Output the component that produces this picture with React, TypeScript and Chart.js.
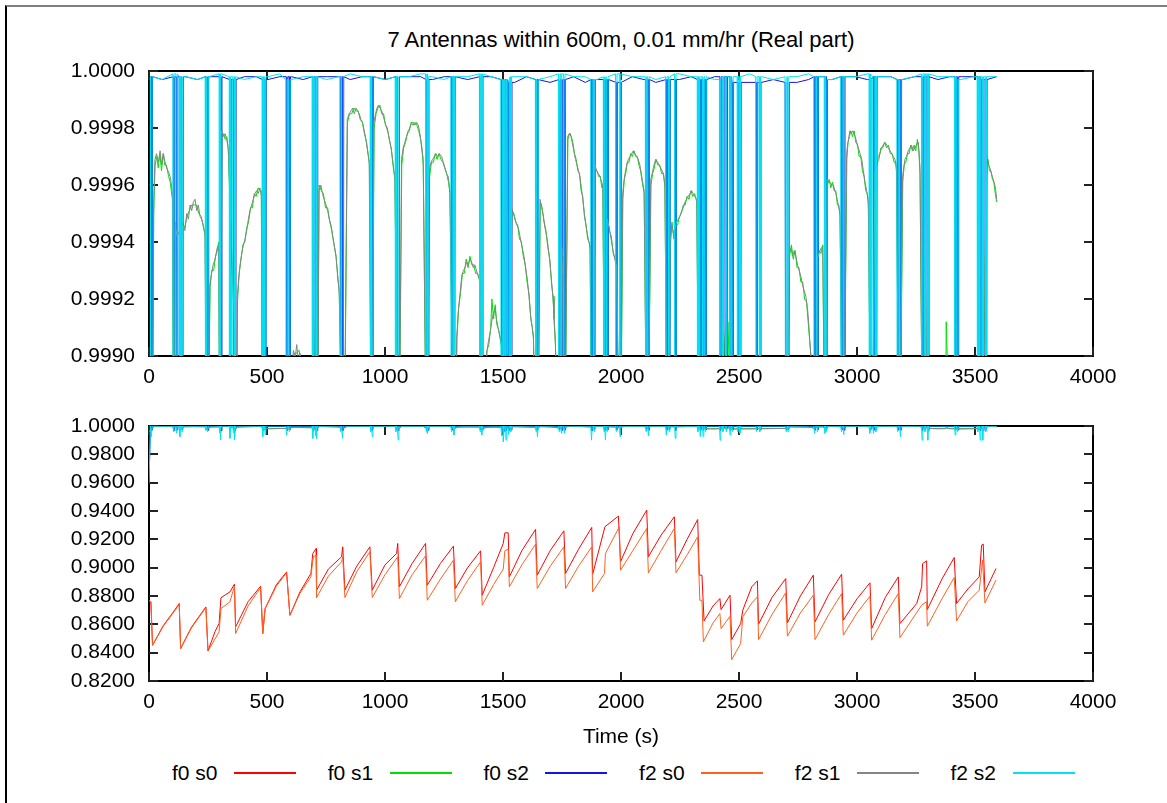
import React, { useEffect, useRef } from 'react';
import { Chart, registerables } from 'chart.js';

Chart.register(...registerables);

type Pt = [number, number];

const FONT = '"Liberation Sans", Arial, Helvetica, sans-serif';
const FONT_SIZE = 21;
const TITLE_SIZE = 22;

const chartTitle = '7 Antennas within 600m, 0.01 mm/hr (Real part)';
const xAxisTitle = 'Time (s)';

const xTicks = [0, 500, 1000, 1500, 2000, 2500, 3000, 3500, 4000];
const yTicksTop = [0.999, 0.9992, 0.9994, 0.9996, 0.9998, 1.0];
const yTicksBottom = [0.82, 0.84, 0.86, 0.88, 0.9, 0.92, 0.94, 0.96, 0.98, 1.0];

const seriesNames = ['f0 s0', 'f0 s1', 'f0 s2', 'f2 s0', 'f2 s1', 'f2 s2'];
const seriesColors = ['#ff0000', '#00e000', '#1414e6', '#ff6020', '#848484', '#00e4f0'];

// s0: sawtooth phase drift, reset at every calibration
const f0s0: Pt[] = [
  [0, 0.8766], [8, 0.876], [15, 0.8452],
  [60, 0.859], [100, 0.868], [128, 0.8747],
  [134, 0.8429],
  [180, 0.858], [241, 0.8723],
  [250, 0.8412],
  [280, 0.855], [297, 0.8605], [305, 0.8788], [343, 0.8829], [362, 0.8883],
  [367, 0.8582],
  [420, 0.876], [473, 0.8869],
  [482, 0.8535], [492, 0.8711],
  [540, 0.888], [583, 0.897],
  [597, 0.8664],
  [640, 0.883], [686, 0.8959], [694, 0.91], [708, 0.9135],
  [710, 0.8841],
  [760, 0.899], [816, 0.9077], [821, 0.9147],
  [830, 0.8841],
  [880, 0.901], [936, 0.9147],
  [946, 0.8841],
  [1000, 0.902], [1049, 0.91], [1054, 0.9171],
  [1061, 0.8865],
  [1115, 0.903], [1172, 0.9171],
  [1179, 0.8876],
  [1235, 0.903], [1290, 0.9152],
  [1298, 0.8853],
  [1350, 0.9], [1405, 0.9119],
  [1412, 0.8806],
  [1460, 0.9], [1501, 0.9171], [1508, 0.9246], [1522, 0.9246],
  [1527, 0.8935],
  [1580, 0.912], [1638, 0.927],
  [1645, 0.8947],
  [1700, 0.912], [1758, 0.926],
  [1765, 0.8959],
  [1820, 0.913], [1876, 0.9284],
  [1880, 0.8954],
  [1932, 0.9289], [1989, 0.9364],
  [1998, 0.9041],
  [2050, 0.924], [2109, 0.9406],
  [2116, 0.9077],
  [2170, 0.923], [2226, 0.9359],
  [2233, 0.9041],
  [2280, 0.92], [2325, 0.934],
  [2332, 0.8947], [2343, 0.8947], [2352, 0.8624],
  [2390, 0.873], [2419, 0.8782], [2424, 0.8704], [2462, 0.8806],
  [2469, 0.8492],
  [2507, 0.8605], [2516, 0.87], [2554, 0.8865], [2578, 0.8907],
  [2583, 0.8601],
  [2640, 0.879], [2698, 0.8923],
  [2705, 0.861],
  [2760, 0.88], [2815, 0.8947],
  [2822, 0.8617],
  [2880, 0.881], [2935, 0.8954],
  [2942, 0.8629],
  [3000, 0.878], [3055, 0.8893],
  [3062, 0.857],
  [3120, 0.879], [3175, 0.8935],
  [3182, 0.8605],
  [3253, 0.8747], [3274, 0.8865], [3278, 0.9029], [3295, 0.9048],
  [3298, 0.8704],
  [3360, 0.892], [3412, 0.9072],
  [3422, 0.8747],
  [3470, 0.885], [3518, 0.8935], [3528, 0.9159], [3535, 0.9166],
  [3542, 0.8829],
  [3589, 0.8994],
];

const f2s0: Pt[] = [
  [0, 0.8766], [8, 0.876], [15, 0.8452],
  [60, 0.8585], [100, 0.8675], [128, 0.874],
  [134, 0.8429],
  [180, 0.8575], [241, 0.8718],
  [250, 0.8412],
  [297, 0.8546], [305, 0.8711], [343, 0.8759], [362, 0.8869],
  [367, 0.8535],
  [420, 0.873], [473, 0.886],
  [482, 0.8535], [492, 0.8711],
  [540, 0.887], [583, 0.8964],
  [597, 0.8664],
  [640, 0.882], [686, 0.8935], [696, 0.9077], [708, 0.9088],
  [710, 0.8789],
  [760, 0.894], [816, 0.9041], [821, 0.9077],
  [830, 0.8789],
  [880, 0.897], [936, 0.9112],
  [946, 0.8789],
  [1000, 0.895], [1054, 0.9077],
  [1061, 0.8782],
  [1115, 0.895], [1172, 0.9084],
  [1179, 0.877],
  [1235, 0.892], [1290, 0.9053],
  [1298, 0.8759],
  [1350, 0.891], [1405, 0.9041],
  [1412, 0.8735],
  [1460, 0.888], [1501, 0.899], [1508, 0.912], [1522, 0.913],
  [1527, 0.8865],
  [1580, 0.902], [1638, 0.9166],
  [1645, 0.8853],
  [1700, 0.901], [1758, 0.9147],
  [1765, 0.8853],
  [1820, 0.901], [1876, 0.9147],
  [1880, 0.8829],
  [1930, 0.8959], [1934, 0.91], [1993, 0.9289],
  [1998, 0.8982],
  [2050, 0.912], [2109, 0.9277],
  [2116, 0.8964],
  [2170, 0.912], [2226, 0.9277],
  [2233, 0.8964],
  [2280, 0.909], [2325, 0.9218],
  [2334, 0.877], [2343, 0.877], [2349, 0.8476],
  [2390, 0.861], [2419, 0.8676], [2424, 0.857], [2462, 0.8657],
  [2469, 0.8351],
  [2507, 0.8464], [2516, 0.8652], [2554, 0.875], [2578, 0.8794],
  [2583, 0.8492],
  [2640, 0.867], [2698, 0.8822],
  [2705, 0.8516],
  [2760, 0.868], [2815, 0.8806],
  [2822, 0.8492],
  [2880, 0.867], [2935, 0.8817],
  [2942, 0.8523],
  [3000, 0.868], [3055, 0.8799],
  [3062, 0.8488],
  [3120, 0.867], [3175, 0.8817],
  [3182, 0.8506],
  [3274, 0.8735], [3295, 0.876],
  [3298, 0.8587],
  [3360, 0.878], [3412, 0.8931],
  [3422, 0.8624],
  [3470, 0.876], [3518, 0.8841], [3532, 0.9053],
  [3542, 0.8751],
  [3589, 0.8912],
];

// s1: close to unity, falls away at each calibration
const f0s1: Pt[] = [
  [0, 0.996], [20, 0.9995],
  [26, 0.99967], [33, 0.9997], [39, 0.99966], [46, 0.99971], [53, 0.99965], [60, 0.99971], [67, 0.99967], [74, 0.99967], [83, 0.99963], [90, 0.99961], [99, 0.99955],
  [105, 0.9984], [111, 0.9994], [114, 0.99947],
  [121, 0.99943], [131, 0.99943], [141, 0.99947], [151, 0.99945], [161, 0.99949], [171, 0.99951], [181, 0.99953], [191, 0.99953], [201, 0.99953], [211, 0.9995], [221, 0.99949], [231, 0.99945], [238, 0.99942],
  [246, 0.9984],
  [259, 0.99924], [266, 0.9993], [274, 0.9993], [282, 0.99935], [290, 0.99937], [295, 0.9994],
  [302, 0.9984],
  [309, 0.99977], [316, 0.99978], [323, 0.99976], [330, 0.99977], [336, 0.99972],
  [350, 0.99936], [366, 0.999], [370, 0.9984],
  [375, 0.99919], [382, 0.99929], [390, 0.99934], [398, 0.99939], [406, 0.9994], [414, 0.99945], [422, 0.99947], [430, 0.99952], [438, 0.99952], [446, 0.99957], [454, 0.99956], [462, 0.99959], [470, 0.99958], [476, 0.99958],
  [482, 0.9983],
  [510, 0.9981], [550, 0.9982], [585, 0.99825],
  [597, 0.9981],
  [606, 0.99898], [616, 0.99901], [626, 0.99901], [636, 0.99902], [650, 0.99891], [675, 0.99883], [690, 0.99876],
  [697, 0.99915], [701, 0.99895],
  [712, 0.9983],
  [721, 0.9996], [730, 0.99958], [739, 0.99957], [748, 0.99952], [757, 0.99952], [766, 0.99947], [775, 0.99944], [784, 0.99939], [793, 0.99935], [800, 0.99927], [806, 0.99923],
  [825, 0.9984],
  [841, 0.99982], [850, 0.99985], [859, 0.99985], [868, 0.99987], [877, 0.99986], [886, 0.99986], [895, 0.99983], [904, 0.99982], [913, 0.99978], [922, 0.99975], [930, 0.9997], [934, 0.99967],
  [944, 0.9984],
  [954, 0.9998], [962, 0.99985], [970, 0.99987], [978, 0.99988], [986, 0.99985], [994, 0.99985], [1002, 0.99981], [1010, 0.9998], [1018, 0.99976], [1026, 0.99973], [1034, 0.99967], [1042, 0.99962],
  [1058, 0.9984],
  [1071, 0.99967], [1079, 0.99973], [1087, 0.99975], [1095, 0.99978], [1103, 0.99979], [1111, 0.99982], [1119, 0.99981], [1127, 0.99982], [1135, 0.99981], [1143, 0.99979], [1151, 0.99976], [1158, 0.99971], [1162, 0.99967],
  [1178, 0.9984],
  [1189, 0.99963], [1197, 0.99968], [1205, 0.99968], [1213, 0.99971], [1221, 0.99969], [1229, 0.99971], [1237, 0.99969], [1245, 0.99968], [1253, 0.99966], [1261, 0.99964], [1269, 0.99961], [1275, 0.99957],
  [1294, 0.9984],
  [1305, 0.99906], [1312, 0.99917], [1320, 0.99922], [1328, 0.99929], [1336, 0.99929], [1344, 0.99934], [1352, 0.99931], [1360, 0.99935], [1368, 0.99932], [1376, 0.99932], [1384, 0.99929], [1392, 0.99929], [1402, 0.99926],
  [1410, 0.9983],
  [1432, 0.99902], [1440, 0.99904], [1448, 0.9991], [1453, 0.9992], [1460, 0.99913], [1467, 0.99918], [1474, 0.99911], [1482, 0.99909], [1490, 0.99905], [1494, 0.99903],
  [1515, 0.9983],
  [1538, 0.99951], [1546, 0.9995], [1554, 0.99947], [1562, 0.99946], [1570, 0.99941], [1578, 0.9994], [1586, 0.99935], [1594, 0.99932], [1602, 0.99926], [1610, 0.99922], [1618, 0.99913], [1624, 0.9991], [1629, 0.99906],
  [1645, 0.9983],
  [1658, 0.99954], [1666, 0.99952], [1674, 0.99947], [1682, 0.99944], [1690, 0.99938], [1698, 0.99934], [1706, 0.99925], [1712, 0.99921], [1716, 0.99913], [1722, 0.99904],
  [1740, 0.9984], [1750, 0.99935], [1754, 0.99925], [1760, 0.9984],
  [1775, 0.99976], [1782, 0.99978], [1789, 0.99977], [1796, 0.99975], [1803, 0.99971], [1810, 0.99969], [1817, 0.99965], [1824, 0.99964], [1831, 0.99958], [1838, 0.99956], [1845, 0.99949], [1852, 0.99946], [1859, 0.99941], [1865, 0.9994], [1869, 0.99937],
  [1878, 0.9984],
  [1891, 0.99965], [1898, 0.99965], [1905, 0.99963], [1912, 0.99963], [1919, 0.99959], [1923, 0.9996],
  [1934, 0.9984],
  [1943, 0.99949], [1951, 0.99944], [1959, 0.99942], [1967, 0.99936], [1975, 0.99934], [1982, 0.9993],
  [1996, 0.9984],
  [2008, 0.99955], [2014, 0.99962], [2020, 0.99964], [2027, 0.99968], [2034, 0.99968], [2041, 0.99971], [2048, 0.9997], [2055, 0.99972], [2062, 0.9997], [2069, 0.9997], [2076, 0.99967], [2083, 0.99965], [2090, 0.99961], [2098, 0.99957],
  [2112, 0.9984],
  [2127, 0.9996], [2134, 0.99964], [2141, 0.99966], [2148, 0.99969], [2156, 0.99967], [2164, 0.99967], [2172, 0.99964], [2180, 0.99964], [2186, 0.99959],
  [2198, 0.9984],
  [2209, 0.99938], [2216, 0.99947], [2224, 0.99941], [2232, 0.99946], [2240, 0.99946], [2248, 0.99949], [2256, 0.9995], [2264, 0.99953], [2272, 0.99953], [2280, 0.99956], [2288, 0.99955], [2296, 0.99958], [2304, 0.99956], [2312, 0.99957], [2321, 0.99954],
  [2335, 0.9982],
  [2380, 0.998], [2430, 0.9981], [2440, 0.99905], [2446, 0.99915], [2452, 0.99895], [2458, 0.99912], [2464, 0.9983], [2470, 0.9979], [2530, 0.998], [2600, 0.9981], [2690, 0.99825],
  [2700, 0.9983],
  [2714, 0.99935], [2722, 0.99939], [2730, 0.99934], [2738, 0.99937], [2746, 0.99931], [2754, 0.99931], [2762, 0.99926], [2770, 0.99926], [2778, 0.9992], [2786, 0.99919], [2793, 0.99912], [2800, 0.99905], [2806, 0.99899],
  [2822, 0.9983],
  [2833, 0.99932], [2840, 0.99937], [2847, 0.99936], [2855, 0.99939],
  [2866, 0.9984],
  [2875, 0.9996], [2882, 0.99962], [2889, 0.99959], [2896, 0.99961], [2903, 0.99958], [2910, 0.99958], [2917, 0.99953], [2923, 0.99953], [2928, 0.99949],
  [2942, 0.9984],
  [2957, 0.99969], [2962, 0.99975], [2968, 0.99977], [2974, 0.99979], [2981, 0.99977], [2988, 0.99979], [2995, 0.99975], [3002, 0.99974], [3009, 0.9997], [3016, 0.9997], [3023, 0.99965], [3030, 0.99963], [3037, 0.99958], [3043, 0.99957], [3048, 0.99953],
  [3062, 0.9984],
  [3077, 0.99962], [3085, 0.99968], [3093, 0.99969], [3101, 0.99973], [3109, 0.99973], [3117, 0.99975], [3125, 0.99973], [3133, 0.99974], [3141, 0.99971], [3149, 0.99971], [3157, 0.99968], [3163, 0.99968], [3167, 0.99965],
  [3180, 0.9984],
  [3194, 0.99961], [3200, 0.99967], [3207, 0.99968], [3214, 0.99971], [3221, 0.99971], [3228, 0.99974], [3235, 0.99972], [3242, 0.99974], [3249, 0.99972], [3256, 0.99976], [3262, 0.99972], [3267, 0.99964],
  [3280, 0.9984], [3286, 0.99932], [3290, 0.99918], [3300, 0.9983],
  [3340, 0.9981], [3372, 0.99815], [3378, 0.99912], [3383, 0.99898], [3390, 0.9982], [3440, 0.998], [3480, 0.9981], [3520, 0.99805],
  [3550, 0.99967], [3555, 0.99969], [3561, 0.99965], [3567, 0.99965], [3574, 0.99962], [3580, 0.99961], [3586, 0.99957], [3592, 0.99954],
];

const f2s1: Pt[] = [
  [0, 0.996], [20, 0.99955],
  [25, 0.99969], [32, 0.99971], [40, 0.99968], [47, 0.99972], [54, 0.99967], [61, 0.99971], [68, 0.99968], [75, 0.99966], [86, 0.99964], [92, 0.99962], [100, 0.99956],
  [106, 0.9984], [112, 0.99945],
  [120, 0.99942], [130, 0.99944], [145, 0.99946], [152, 0.99944], [160, 0.9995], [167, 0.99948], [174, 0.99953], [181, 0.99951], [188, 0.99954], [195, 0.99955], [202, 0.99951], [209, 0.99953], [216, 0.99949], [223, 0.99948], [230, 0.99946], [237, 0.99943],
  [246, 0.9984],
  [258, 0.99925], [265, 0.99929], [272, 0.99932], [280, 0.99934], [289, 0.99938], [295, 0.99939],
  [302, 0.9984],
  [308, 0.99979], [315, 0.99977], [322, 0.99978], [329, 0.99976], [336, 0.99973],
  [350, 0.99938], [366, 0.99902], [370, 0.9984],
  [374, 0.99921], [380, 0.99927], [386, 0.99932], [393, 0.99936], [400, 0.99939], [407, 0.99941], [414, 0.99944], [421, 0.99948], [428, 0.99951], [435, 0.99953], [442, 0.99955], [449, 0.99957], [456, 0.99958], [463, 0.99957], [470, 0.99959], [476, 0.99956],
  [482, 0.9983],
  [500, 0.99805], [530, 0.99815], [560, 0.9982], [585, 0.99825],
  [597, 0.9981],
  [605, 0.99896], [612, 0.99902], [619, 0.99899], [626, 0.99904], [633, 0.99898], [640, 0.99901], [650, 0.99893], [670, 0.99885], [690, 0.99878],
  [712, 0.9983],
  [720, 0.99958], [728, 0.9996], [735, 0.99957], [742, 0.99955], [750, 0.99953], [757, 0.99951], [764, 0.99948], [771, 0.99946], [778, 0.99942], [785, 0.99939], [792, 0.99935], [799, 0.99929], [806, 0.99922],
  [825, 0.9984],
  [840, 0.99983], [848, 0.99985], [856, 0.99986], [863, 0.99987], [870, 0.99985], [877, 0.99987], [884, 0.99986], [891, 0.99985], [898, 0.99983], [905, 0.99982], [912, 0.99979], [919, 0.99976], [926, 0.99972], [933, 0.99968],
  [944, 0.9984],
  [953, 0.99982], [960, 0.99985], [966, 0.99987], [972, 0.99988], [979, 0.99987], [986, 0.99986], [993, 0.99984], [1000, 0.99982], [1007, 0.9998], [1014, 0.99978], [1021, 0.99975], [1028, 0.99972], [1035, 0.99967], [1042, 0.99962],
  [1058, 0.9984],
  [1070, 0.99969], [1077, 0.99973], [1084, 0.99975], [1091, 0.99977], [1098, 0.99979], [1105, 0.9998], [1113, 0.99982], [1120, 0.99982], [1127, 0.99981], [1134, 0.99982], [1141, 0.99981], [1148, 0.99978], [1155, 0.99974], [1162, 0.99969],
  [1178, 0.9984],
  [1188, 0.99965], [1195, 0.99968], [1202, 0.99969], [1209, 0.9997], [1216, 0.99971], [1223, 0.9997], [1230, 0.99971], [1240, 0.9997], [1247, 0.99968], [1254, 0.99966], [1261, 0.99964], [1268, 0.99963], [1275, 0.99958],
  [1294, 0.9984],
  [1304, 0.99907], [1310, 0.99915], [1318, 0.99922], [1325, 0.99928], [1332, 0.9993], [1339, 0.99931], [1346, 0.99933], [1353, 0.99932], [1360, 0.99934], [1367, 0.99933], [1374, 0.99931], [1381, 0.99932], [1391, 0.99929], [1402, 0.99927],
  [1410, 0.9983],
  [1431, 0.99901], [1438, 0.99905], [1445, 0.99908], [1452, 0.99912], [1459, 0.99915], [1466, 0.99917], [1472, 0.99913], [1479, 0.9991], [1487, 0.99907], [1494, 0.99904],
  [1515, 0.9983],
  [1537, 0.99952], [1544, 0.9995], [1551, 0.99948], [1558, 0.99946], [1565, 0.99945], [1572, 0.99942], [1579, 0.99939], [1589, 0.99935], [1596, 0.99931], [1603, 0.99927], [1610, 0.99921], [1617, 0.99914], [1624, 0.9991], [1629, 0.99907],
  [1645, 0.9983],
  [1657, 0.99955], [1664, 0.99952], [1671, 0.99949], [1678, 0.99945], [1685, 0.99942], [1692, 0.99938], [1699, 0.99933], [1706, 0.99926], [1712, 0.9992], [1716, 0.99915], [1722, 0.99905],
  [1740, 0.9984], [1749, 0.99938], [1753, 0.99928], [1760, 0.9984],
  [1774, 0.99977], [1780, 0.99978], [1786, 0.99978], [1793, 0.99975], [1800, 0.99972], [1807, 0.99969], [1814, 0.99967], [1820, 0.99965], [1826, 0.99963], [1832, 0.99959], [1838, 0.99955], [1845, 0.9995], [1851, 0.99946], [1857, 0.99943], [1864, 0.9994], [1869, 0.99939],
  [1878, 0.9984],
  [1890, 0.99967], [1897, 0.99965], [1904, 0.99964], [1911, 0.99963], [1918, 0.99961], [1923, 0.9996],
  [1934, 0.9984],
  [1942, 0.99948], [1950, 0.99945], [1958, 0.99941], [1966, 0.99937], [1974, 0.99934], [1982, 0.99931],
  [1996, 0.9984],
  [2007, 0.99957], [2012, 0.99961], [2017, 0.99964], [2024, 0.99967], [2031, 0.99969], [2038, 0.9997], [2045, 0.99971], [2052, 0.99972], [2059, 0.99971], [2066, 0.9997], [2073, 0.99969], [2080, 0.99967], [2088, 0.99963], [2094, 0.9996], [2098, 0.99958],
  [2112, 0.9984],
  [2126, 0.99962], [2132, 0.99964], [2137, 0.99966], [2143, 0.99968], [2148, 0.99969], [2155, 0.99968], [2162, 0.99967], [2168, 0.99966], [2174, 0.99965], [2180, 0.99964], [2186, 0.9996],
  [2198, 0.9984],
  [2208, 0.9994], [2215, 0.99946], [2222, 0.99943], [2229, 0.99945], [2236, 0.99947], [2243, 0.99948], [2250, 0.99949], [2257, 0.99951], [2264, 0.99952], [2271, 0.99954], [2278, 0.99955], [2285, 0.99956], [2292, 0.99957], [2299, 0.99958], [2306, 0.99957], [2313, 0.99956], [2321, 0.99955],
  [2335, 0.9982],
  [2380, 0.998], [2420, 0.9981], [2440, 0.99815], [2455, 0.9982], [2470, 0.9979], [2520, 0.998], [2580, 0.9981], [2640, 0.9982], [2690, 0.99825],
  [2700, 0.9983],
  [2713, 0.99937], [2720, 0.99938], [2727, 0.99935], [2734, 0.99937], [2741, 0.99935], [2748, 0.99932], [2755, 0.9993], [2762, 0.99928], [2769, 0.99925], [2776, 0.99923], [2783, 0.99921], [2790, 0.99917], [2795, 0.99912], [2800, 0.99905], [2806, 0.99898],
  [2822, 0.9983],
  [2832, 0.99934], [2838, 0.99936], [2843, 0.99937], [2849, 0.99938], [2855, 0.99938],
  [2866, 0.9984],
  [2874, 0.99962], [2880, 0.99961], [2886, 0.99961], [2893, 0.9996], [2900, 0.9996], [2906, 0.99958], [2911, 0.99957], [2916, 0.99955], [2921, 0.99953], [2928, 0.9995],
  [2942, 0.9984],
  [2956, 0.99971], [2960, 0.99974], [2964, 0.99976], [2970, 0.99979], [2976, 0.99978], [2982, 0.99979], [2988, 0.99978], [2992, 0.99977], [2999, 0.99975], [3006, 0.99973], [3013, 0.99971], [3020, 0.99969], [3027, 0.99965], [3034, 0.99961], [3041, 0.99958], [3048, 0.99955],
  [3062, 0.9984],
  [3076, 0.99964], [3083, 0.99967], [3090, 0.9997], [3097, 0.99971], [3104, 0.99973], [3111, 0.99974], [3119, 0.99975], [3126, 0.99974], [3133, 0.99973], [3140, 0.99972], [3147, 0.99971], [3154, 0.9997], [3161, 0.99969], [3167, 0.99967],
  [3180, 0.9984],
  [3193, 0.99963], [3198, 0.99966], [3203, 0.99969], [3210, 0.9997], [3217, 0.99972], [3224, 0.99973], [3231, 0.99974], [3238, 0.99972], [3245, 0.99973], [3252, 0.99974], [3260, 0.99975], [3264, 0.9997], [3267, 0.99966],
  [3280, 0.9984], [3288, 0.99928], [3292, 0.9992], [3300, 0.9983],
  [3340, 0.9981], [3373, 0.99815], [3380, 0.9983], [3387, 0.99815], [3400, 0.9981], [3440, 0.998], [3480, 0.9981], [3520, 0.99805],
  [3549, 0.99971], [3553, 0.99969], [3558, 0.99967], [3563, 0.99966], [3570, 0.99964], [3577, 0.99962], [3584, 0.9996], [3588, 0.99958], [3592, 0.99955],
];

// s2: steady level just under unity with short drop-outs
const S2_START = 0.96;
const S2_BASE_T0 = 6;
const S2_BASE_STEP = 49.8;

const f0s2Base: number[] = [
  0.99998, 0.99997, 0.99998, 0.99998, 0.99997, 0.99998, 0.99998, 0.99997, 0.99998, 0.99998,
  0.99997, 0.99998, 0.99998, 0.99997, 0.99998, 0.99998, 0.99998, 0.99997, 0.99998, 0.99998,
  0.99997, 0.99998, 0.99998, 0.99998, 0.99997, 0.99998, 0.99998, 0.99997, 0.99998, 0.99998,
  0.99997, 0.99996, 0.99998, 0.99997, 0.99996, 0.99997, 0.99998, 0.99996, 0.99997, 0.99997,
  0.99996, 0.99998, 0.99997, 0.99996, 0.99997, 0.99997, 0.99998, 0.99997, 0.99998, 0.99998,
  0.99996, 0.99996, 0.99996, 0.99997, 0.99996, 0.99996, 0.99997, 0.99998, 0.99997, 0.99998,
  0.99998, 0.99997, 0.99998, 0.99998, 0.99997, 0.99998, 0.99998, 0.99997, 0.99998, 0.99998,
  0.99998, 0.99997, 0.99998,
];

const f2s2Base: number[] = [
  0.99998, 0.99997, 0.99999, 0.99998, 0.99997, 0.99998, 0.99999, 0.99998, 0.99997, 0.99998,
  0.99998, 0.99999, 0.99997, 0.99998, 0.99998, 0.99997, 0.99998, 0.99999, 0.99998, 0.99998,
  0.99997, 0.99998, 0.99998, 0.99999, 0.99998, 0.99997, 0.99998, 0.99998, 0.99999, 0.99998,
  0.99997, 0.99998, 0.99998, 0.99997, 0.99998, 0.99999, 0.99998, 0.99998, 0.99997, 0.99998,
  0.99999, 0.99998, 0.99998, 0.99997, 0.99998, 0.99999, 0.99998, 0.99998, 0.99997, 0.99998,
  0.99998, 0.99999, 0.99998, 0.99997, 0.99998, 0.99998, 0.99999, 0.99998, 0.99997, 0.99998,
  0.99998, 0.99999, 0.99998, 0.99998, 0.99997, 0.99998, 0.99999, 0.99998, 0.99998, 0.99997,
  0.99998, 0.99998, 0.99998,
];

const f0s2Dips: Pt[] = [
  [12, 0.997], [106, 0.9968], [119, 0.9972], [133, 0.9966], [142, 0.9972], [243, 0.9974], [250, 0.997],
  [302, 0.9968], [306, 0.9966], [345, 0.997], [360, 0.9972], [366, 0.9966], [484, 0.997], [494, 0.9972],
  [585, 0.997], [597, 0.9974], [696, 0.9968], [708, 0.997], [712, 0.9968], [814, 0.9972], [822, 0.9968],
  [942, 0.9972], [948, 0.997], [1048, 0.9972], [1058, 0.9966], [1177, 0.9972], [1183, 0.997], [1284, 0.9972],
  [1294, 0.997], [1405, 0.9972], [1412, 0.997], [1496, 0.997], [1505, 0.9964], [1515, 0.9966], [1526, 0.997],
  [1535, 0.9972], [1642, 0.9972], [1648, 0.997], [1740, 0.9972], [1750, 0.997], [1762, 0.997], [1877, 0.9966],
  [1888, 0.9972], [1930, 0.9972], [1936, 0.9966], [1944, 0.9972], [1982, 0.9972], [1998, 0.997], [2108, 0.9972],
  [2118, 0.997], [2194, 0.997], [2206, 0.9972], [2232, 0.9968], [2328, 0.9972], [2338, 0.997], [2350, 0.997],
  [2360, 0.9972], [2422, 0.9966], [2434, 0.9972], [2448, 0.9972], [2464, 0.997], [2474, 0.9972], [2497, 0.9972],
  [2506, 0.997], [2576, 0.9972], [2590, 0.9972], [2702, 0.9972], [2710, 0.9972], [2822, 0.997], [2834, 0.9972],
  [2866, 0.997], [2872, 0.9972], [2936, 0.9972], [2946, 0.997], [3056, 0.997], [3072, 0.997], [3082, 0.9972],
  [3174, 0.9972], [3186, 0.997], [3278, 0.9966], [3290, 0.9972], [3302, 0.9966], [3418, 0.997], [3428, 0.9972],
  [3514, 0.9972], [3524, 0.9966], [3535, 0.9966], [3548, 0.9972],
];

const f2s2Dips: Pt[] = [
  [10, 0.9925], [104, 0.996], [117, 0.995], [131, 0.9925], [140, 0.996], [241, 0.997], [248, 0.996],
  [300, 0.995], [304, 0.9901], [343, 0.9913], [358, 0.995], [364, 0.9901], [482, 0.9925], [492, 0.994],
  [583, 0.9936], [595, 0.996], [694, 0.9913], [706, 0.993], [710, 0.9913], [812, 0.996], [820, 0.9913],
  [940, 0.996], [946, 0.9925], [1046, 0.996], [1056, 0.9901], [1175, 0.996], [1181, 0.9948], [1282, 0.996],
  [1292, 0.9936], [1403, 0.996], [1410, 0.9936], [1494, 0.993], [1503, 0.9889], [1513, 0.99], [1524, 0.994],
  [1533, 0.996], [1640, 0.996], [1646, 0.9925], [1738, 0.996], [1748, 0.9948], [1760, 0.9948], [1875, 0.99],
  [1886, 0.996], [1928, 0.996], [1934, 0.99], [1942, 0.996], [1980, 0.996], [1996, 0.9925], [2106, 0.996],
  [2116, 0.993], [2192, 0.9936], [2204, 0.996], [2230, 0.9913], [2326, 0.996], [2336, 0.9925], [2348, 0.9925],
  [2358, 0.996], [2420, 0.99], [2432, 0.996], [2446, 0.996], [2462, 0.9936], [2472, 0.996], [2495, 0.996],
  [2504, 0.9948], [2574, 0.996], [2588, 0.996], [2700, 0.996], [2708, 0.996], [2820, 0.9948], [2832, 0.996],
  [2864, 0.9948], [2870, 0.996], [2934, 0.996], [2944, 0.994], [3054, 0.9948], [3070, 0.9948], [3080, 0.996],
  [3172, 0.996], [3184, 0.9925], [3276, 0.99], [3288, 0.996], [3300, 0.99], [3416, 0.9936], [3426, 0.996],
  [3512, 0.996], [3522, 0.99], [3533, 0.99], [3546, 0.996],
];

type XY = { x: number; y: number };

const toXY = (pts: Pt[]): XY[] => pts.map(([x, y]) => ({ x, y }));

// Steady level sampled on a regular time grid, with each drop-out
// inserted as a narrow V between two samples of the nearest level.
function buildS2(base: number[], dips: Pt[]): XY[] {
  const pts: XY[] = [{ x: 0, y: S2_START }];
  base.forEach((v, i) => pts.push({ x: S2_BASE_T0 + i * S2_BASE_STEP, y: v }));
  const nearest = (t: number) => {
    const i = Math.round((t - S2_BASE_T0) / S2_BASE_STEP);
    return base[Math.max(0, Math.min(base.length - 1, i))];
  };
  dips.forEach(([t, low]) => {
    const b = nearest(t);
    pts.push({ x: t - 3, y: b }, { x: t, y: low }, { x: t + 3, y: b });
  });
  pts.sort((a, b) => a.x - b.x);
  return pts;
}

const seriesData: XY[][] = [
  toXY(f0s0),
  toXY(f0s1),
  buildS2(f0s2Base, f0s2Dips),
  toXY(f2s0),
  toXY(f2s1),
  buildS2(f2s2Base, f2s2Dips),
];

const WIDTH = 1167;
const PLOT_LEFT = 149;
const PLOT_RIGHT = 1093;
const TICK_LEN = 9;

// gnuplot-like frame with inward ticks on all four sides
const framePlugin = {
  id: 'gnuFrame',
  beforeDatasetsDraw(chart: any) {
    const { ctx, chartArea, scales } = chart;
    const { left, right, top, bottom } = chartArea;
    ctx.save();
    ctx.strokeStyle = '#000';
    ctx.lineWidth = 2;
    ctx.strokeRect(left, top, right - left, bottom - top);
    ctx.strokeStyle = '#222';
    ctx.lineWidth = 2;
    ctx.beginPath();
    scales.x.ticks.forEach((t: any) => {
      const px = Math.round(scales.x.getPixelForValue(t.value));
      ctx.moveTo(px, bottom);
      ctx.lineTo(px, bottom - TICK_LEN);
      ctx.moveTo(px, top);
      ctx.lineTo(px, top + TICK_LEN);
    });
    scales.y.ticks.forEach((t: any) => {
      const py = Math.round(scales.y.getPixelForValue(t.value));
      ctx.moveTo(left, py);
      ctx.lineTo(left + TICK_LEN, py);
      ctx.moveTo(right, py);
      ctx.lineTo(right - TICK_LEN, py);
    });
    ctx.stroke();
    ctx.restore();
  },
};

type PanelProps = {
  top: number;
  height: number;
  plotTop: number;
  xAxisHeight: number;
  yTicks: number[];
};

function Panel({ top, height, plotTop, xAxisHeight, yTicks }: PanelProps) {
  const ref = useRef<HTMLCanvasElement>(null);

  useEffect(() => {
    if (!ref.current) return;
    const tickFont = { family: FONT, size: FONT_SIZE };
    const chart = new Chart(ref.current, {
      type: 'line',
      data: {
        datasets: seriesData.map((d, i) => ({
          label: seriesNames[i],
          data: d,
          borderColor: seriesColors[i],
          backgroundColor: seriesColors[i],
          borderWidth: 1,
          pointRadius: 0,
          fill: false,
          tension: 0,
          order: seriesData.length - 1 - i,
        })),
      },
      options: {
        animation: false,
        responsive: false,
        devicePixelRatio: 1,
        events: [],
        layout: { padding: { top: plotTop, right: WIDTH - PLOT_RIGHT, left: 0, bottom: 0 } },
        plugins: {
          legend: { display: false },
          tooltip: { enabled: false },
          title: { display: false },
        },
        scales: {
          x: {
            type: 'linear',
            min: xTicks[0],
            max: xTicks[xTicks.length - 1],
            grid: { display: false, drawTicks: false },
            border: { display: false },
            afterBuildTicks: (s: any) => {
              s.ticks = xTicks.map((v) => ({ value: v }));
            },
            afterFit: (s: any) => {
              s.height = xAxisHeight;
            },
            ticks: {
              autoSkip: false,
              maxRotation: 0,
              padding: 9,
              color: '#000',
              font: tickFont,
              callback: (v: any) => String(v),
            },
          },
          y: {
            type: 'linear',
            min: yTicks[0],
            max: yTicks[yTicks.length - 1],
            grid: { display: false, drawTicks: false },
            border: { display: false },
            afterBuildTicks: (s: any) => {
              s.ticks = yTicks.map((v) => ({ value: v }));
            },
            afterFit: (s: any) => {
              s.width = PLOT_LEFT;
            },
            ticks: {
              autoSkip: false,
              padding: 14,
              color: '#000',
              font: tickFont,
              callback: (v: any) => Number(v).toFixed(4),
            },
          },
        },
      } as any,
      plugins: [framePlugin],
    });
    return () => chart.destroy();
  }, []);

  return (
    <canvas
      ref={ref}
      width={WIDTH}
      height={height}
      style={{ position: 'absolute', left: 0, top, width: WIDTH, height }}
    />
  );
}

const textStyle: React.CSSProperties = {
  position: 'absolute',
  fontFamily: FONT,
  fontSize: FONT_SIZE,
  lineHeight: '24px',
  color: '#000',
  whiteSpace: 'nowrap',
};

const LEGEND_X0 = 172;
const LEGEND_STEP = 155.7;

export default function App() {
  const center = (PLOT_LEFT + PLOT_RIGHT) / 2;
  return (
    <div
      style={{
        position: 'absolute',
        left: 0,
        top: 0,
        width: WIDTH,
        height: 803,
        background: '#fff',
        overflow: 'hidden',
      }}
    >
      <div
        style={{
          position: 'absolute',
          left: 5,
          top: 5,
          width: WIDTH - 5,
          height: 798,
          borderTop: '2px solid #7f7f7f',
          borderLeft: '2px solid #000',
          boxSizing: 'border-box',
        }}
      />
      <div
        style={{
          ...textStyle,
          fontSize: TITLE_SIZE,
          left: center - 400,
          width: 800,
          textAlign: 'center',
          top: 28,
        }}
      >
        {chartTitle}
      </div>
      <Panel top={0} height={395} plotTop={71} xAxisHeight={39} yTicks={yTicksTop} />
      <Panel top={395} height={355} plotTop={31} xAxisHeight={69} yTicks={yTicksBottom} />
      <div style={{ ...textStyle, left: center - 100, width: 200, textAlign: 'center', top: 724 }}>{xAxisTitle}</div>
      {seriesNames.map((name, i) => {
        const x = LEGEND_X0 + i * LEGEND_STEP;
        return (
          <React.Fragment key={name}>
            <div style={{ ...textStyle, left: x, top: 761 }}>{name}</div>
            <div
              style={{
                position: 'absolute',
                left: x + 62,
                top: 772,
                width: 62,
                height: 2,
                background: seriesColors[i],
              }}
            />
          </React.Fragment>
        );
      })}
    </div>
  );
}
